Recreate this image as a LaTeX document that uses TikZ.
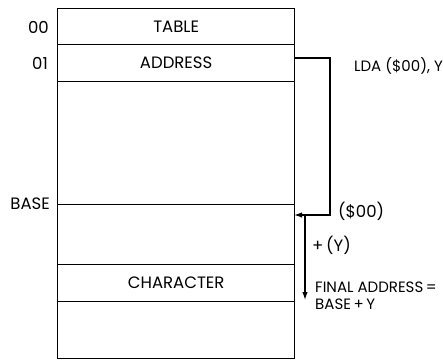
\documentclass[tikz,border=0pt]{standalone}
\usepackage{fontspec}
\setmainfont{Poppins}
\usetikzlibrary{arrows.meta}
\begin{document}
\begin{tikzpicture}[x=1pt,y=-1pt,
  cell/.style={draw,line width=1.3pt,rectangle,inner sep=0pt,minimum width=237pt,anchor=north west,font=\fontsize{16.5}{18}\selectfont},
  lbl/.style={inner sep=0pt,font=\fontsize{16.5}{18}\selectfont},
  slbl/.style={inner sep=0pt,font=\fontsize{15}{17}\selectfont},
  conn/.style={line width=1.3pt,-{Latex[length=8pt,width=5.5pt]}}]
\useasboundingbox (0,0) rectangle (443,360);
\node[cell,minimum height=36pt] (table) at (57,8) {TABLE};
\node[cell,minimum height=37pt] (address) at (57,44) {ADDRESS};
\node[cell,minimum height=123pt] (blank) at (57,81) {};
\node[cell,minimum height=60pt] (baseblk) at (57,204) {};
\node[cell,minimum height=37pt] (char) at (57,264) {CHARACTER};
\node[cell,minimum height=57pt] (rest) at (57,301) {};
\node[lbl,anchor=east] (l00) at (49,27) {00};
\node[lbl,anchor=east] (l01) at (48,63) {01};
\node[lbl,anchor=east] (lbase) at (50,204) {BASE};
\node[slbl,anchor=east] (lda) at (443,66) {LDA (\$00), Y};
\node[lbl,anchor=west] (s00) at (338,211) {(\$00)};
\node[lbl,anchor=west] (py) at (312,245) {+\,(Y)};
\node[slbl,anchor=west] (fin1) at (315,287) {FINAL ADDRESS\,=};
\node[slbl,anchor=west] (fin2) at (315,304) {BASE\,+\,Y};
\coordinate (src) at (294,58);
\coordinate (ptr) at (294,215);
\coordinate (dtop) at (305,215);
\coordinate (dbot) at (305,300);
\draw[conn] (src) -- (330,58) -- (330,215) -- (ptr);
\draw[conn] (dtop) -- (dbot);
\end{tikzpicture}
\end{document}
